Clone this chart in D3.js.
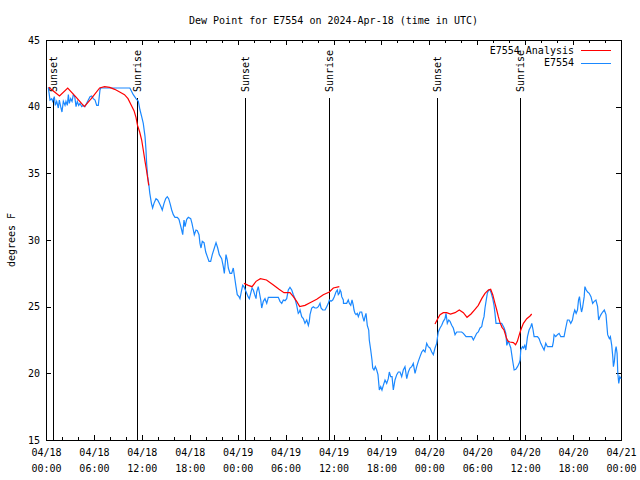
<!DOCTYPE html>
<html><head><meta charset="utf-8">
<script src="https://cdn.jsdelivr.net/npm/d3@7"></script>
<style>
body{margin:0;background:#fff}
svg text{font-family:"DejaVu Sans Mono","Liberation Mono",monospace;font-size:10px;fill:#000}
</style>
</head><body>
<svg id="chart" width="640" height="480"></svg>
<script>
// ---------- data ----------
const title = "Dew Point for E7554 on 2024-Apr-18 (time in UTC)";
const yLabel = "degrees F";
const startUTC = Date.UTC(2024, 3, 18, 0, 0, 0);   // hours below are counted from here
const endUTC = Date.UTC(2024, 3, 21, 0, 0, 0);
const yTicks = [15, 20, 25, 30, 35, 40, 45];
const seriesNames = ["E7554 Analysis", "E7554"];
const seriesColors = ["#ff0000", "#1a88ff"];

// observed E7554 (hours since start, deg F)
const obsHours = [0.29,0.5,0.71,0.83,1.04,1.17,1.34,1.54,1.67,1.84,2.0,2.17,2.38,2.5,2.67,2.8,2.92,3.09,3.26,3.42,3.6,3.76,3.92,4.09,4.26,4.47,4.67,4.88,5.09,5.3,5.51,5.72,5.92,6.14,6.35,6.55,6.76,6.85,10.5,10.93,11.27,11.56,11.77,11.98,12.18,12.4,12.52,12.6,12.73,12.86,13.0,13.2,13.35,13.52,13.77,13.98,14.19,14.4,14.56,14.78,14.99,15.19,15.36,15.53,15.74,15.94,16.15,16.44,16.65,16.78,16.99,17.12,17.28,17.41,17.62,17.82,18.12,18.28,18.45,18.57,18.78,18.95,19.16,19.28,19.41,19.57,19.79,20.0,20.2,20.41,20.62,20.82,21.08,21.29,21.5,21.7,22.0,22.2,22.33,22.54,22.7,22.83,23.04,23.25,23.45,23.67,23.79,23.95,24.17,24.29,24.5,24.63,24.79,24.96,25.13,25.3,25.46,25.63,25.8,25.96,26.13,26.3,26.38,26.58,26.71,26.89,27.01,27.21,27.42,27.64,27.84,29.09,29.3,29.52,29.72,29.93,30.14,30.34,30.55,30.77,30.97,31.18,31.39,31.59,31.72,31.81,32.02,32.22,32.43,32.65,32.85,32.97,33.06,33.27,33.47,33.68,33.9,34.1,34.31,34.44,34.65,34.94,35.15,35.35,35.48,35.69,35.9,36.1,36.31,36.48,36.6,36.73,36.82,36.94,37.03,37.23,37.25,37.65,37.85,37.98,38.16,38.32,38.48,38.57,38.69,38.82,38.98,39.11,39.32,39.53,39.66,39.82,39.95,40.07,40.23,40.41,40.48,40.66,40.82,40.91,41.07,41.24,41.41,41.57,41.74,41.91,42.07,42.24,42.45,42.66,42.86,42.99,43.16,43.33,43.49,43.7,43.92,44.12,44.33,44.54,44.74,44.95,45.17,45.37,45.58,45.79,45.99,46.21,46.42,46.62,46.83,47.05,47.25,47.46,47.67,47.87,48.08,48.3,48.5,48.71,48.92,49.0,49.12,49.34,49.55,49.75,49.96,50.09,50.25,50.43,50.59,50.8,51.0,51.22,51.43,52.05,52.26,52.6,53.31,53.51,53.72,53.93,54.13,54.35,54.56,54.68,54.85,54.97,55.1,55.26,55.44,55.6,55.76,55.94,56.1,56.22,56.35,57.06,57.37,57.58,57.7,57.87,57.99,58.2,58.42,58.62,58.83,59.04,59.25,59.37,59.45,59.66,59.78,59.95,60.08,60.29,60.49,60.7,60.83,60.99,61.12,61.54,61.74,61.95,62.16,62.37,62.58,62.79,63.41,63.54,63.62,63.83,64.04,64.25,64.46,64.87,65.08,65.29,65.5,65.71,65.92,66.04,66.21,66.38,66.55,66.68,66.8,66.97,67.06,67.18,67.39,67.48,67.65,67.82,68.02,68.24,68.45,68.65,68.86,69.07,69.2,69.36,69.49,69.7,69.91,70.12,70.33,70.54,70.67,70.84,70.97,71.05,71.17,71.3,71.39,71.51,71.6,71.72,71.85,72.0];
const obsValues = [41.45,40.5,40.6,40.4,40.75,40.1,40.4,39.9,40.5,40.0,39.6,40.4,40.1,40.4,40.1,40.9,40.25,40.6,40.4,40.9,40.75,40.0,40.4,40.1,40.25,40.0,40.1,40.0,40.25,40.5,40.75,40.8,40.6,40.5,40.1,40.1,41.25,41.4,41.4,40.9,40.6,40.4,39.75,39.25,38.75,37.75,36.75,35.75,34.75,34.25,33.5,32.75,32.4,32.75,33.1,33.0,32.75,32.5,32.25,32.75,33.1,33.25,33.1,32.75,32.25,31.9,31.7,31.7,31.55,31.25,30.75,30.4,31.5,31.0,31.55,31.7,31.6,31.25,30.75,30.4,30.75,30.7,30.4,29.75,29.4,29.9,29.8,29.1,28.75,28.4,28.4,28.9,29.4,29.8,29.4,28.9,28.6,28.0,27.5,28.9,28.5,27.9,27.5,27.5,27.9,27.0,26.5,25.9,25.75,25.6,26.25,26.6,26.5,26.25,26.0,25.75,25.6,26.0,26.4,26.25,25.9,25.6,26.1,26.5,26.1,25.5,24.9,25.4,25.6,25.25,25.7,25.7,25.4,25.25,25.5,25.45,25.6,26.25,26.45,26.25,25.9,25.6,25.1,24.5,24.6,24.75,24.25,24.1,23.75,24.0,23.6,23.9,24.4,24.9,25.0,24.9,24.9,25.0,25.25,24.9,24.75,24.75,25.0,25.25,25.5,25.4,25.5,25.75,26.1,26.25,25.9,26.0,26.25,26.1,25.75,25.5,25.25,25.25,25.5,25.25,25.1,25.5,25.1,24.75,24.5,24.4,24.5,24.25,24.6,24.6,24.25,23.9,24.25,24.5,23.6,23.25,22.5,21.75,21.0,20.4,20.25,20.5,20.25,19.9,18.75,19.0,18.75,19.1,19.5,19.25,19.6,20.1,19.75,19.75,18.75,19.5,19.9,20.1,20.1,19.75,20.25,20.5,19.6,20.1,20.4,20.5,20.75,20.0,20.5,20.9,21.25,21.6,21.75,21.6,22.25,22.0,21.9,21.6,21.4,21.9,22.25,22.6,23.1,23.4,23.6,23.9,24.1,24.5,23.75,24.0,23.9,23.6,23.4,22.9,23.1,23.1,23.0,22.75,22.75,22.5,22.75,23.0,23.1,23.4,23.5,23.9,24.25,24.9,25.4,26.0,26.25,26.25,26.0,25.6,25.1,24.5,23.75,23.75,23.4,23.0,22.1,22.4,22.25,21.9,21.0,20.25,20.3,20.5,20.75,21.0,21.75,22.0,21.9,22.1,21.75,22.75,23.25,23.5,23.75,23.25,22.75,22.75,22.6,22.25,22.0,21.75,22.25,22.0,22.0,22.4,22.9,22.75,22.9,23.0,22.75,22.75,23.4,24.0,24.0,23.75,24.0,24.4,24.75,24.5,24.75,25.5,25.75,24.9,24.6,24.9,25.75,26.5,26.25,26.1,26.0,25.75,25.25,25.4,25.5,25.0,24.0,24.25,24.4,24.6,24.75,24.4,22.9,22.6,22.75,22.1,21.25,20.5,20.9,21.75,22.0,21.5,20.0,19.25,19.75,19.6];

// analysis E7554 (null = gap between analysis runs)
const anaHours = [0.34,0.88,1.69,2.72,3.79,4.8,5.67,6.72,7.33,7.98,8.6,9.23,9.83,10.27,10.68,11.02,11.27,11.46,11.73,11.98,12.18,12.4,12.58,12.77,12.86,18.0,24.79,25.33,25.8,26.3,26.84,27.61,28.43,29.18,29.8,30.55,30.97,31.39,31.77,32.43,33.06,33.9,34.72,35.48,35.98,36.73,42.0,48.71,49.05,49.34,49.75,50.17,50.65,51.22,51.75,52.26,52.72,53.22,53.72,54.13,54.56,54.97,55.39,55.68,55.94,56.22,56.44,56.64,56.85,57.1,57.35,57.66,57.85,58.1,58.52,58.8,59.02,59.27,59.45,59.78,60.2,60.61,60.82];
const anaValues = [41.45,41.2,40.8,41.4,40.7,40.0,40.6,41.4,41.5,41.45,41.3,41.1,40.9,40.6,40.1,39.7,39.2,38.6,38.1,37.5,36.75,35.9,35.25,34.5,34.1,null,26.75,26.6,26.5,26.9,27.1,27.0,26.65,26.3,26.05,26.05,25.75,25.4,25.0,25.1,25.3,25.55,25.9,26.1,26.4,26.5,null,23.7,24.1,24.4,24.55,24.55,24.45,24.55,24.75,24.55,24.2,24.45,24.8,25.1,25.6,26.0,26.25,26.3,25.9,25.25,24.75,24.25,23.8,23.45,23.25,22.65,22.4,22.35,22.3,22.15,22.4,22.9,23.25,23.75,24.1,24.3,24.45];

// sunrise / sunset markers
const eventHours = [0.92, 11.4, 24.97, 35.45, 48.98, 59.4];
const eventLabels = ["Sunset", "Sunrise", "Sunset", "Sunrise", "Sunset", "Sunrise"];

// ---------- chart ----------
const W = 640, H = 480;
const m = {left: 46, right: 19, top: 40, bottom: 40};
const svg = d3.select("#chart");
const toDate = h => new Date(startUTC + h * 3600e3);

const x = d3.scaleUtc().domain([new Date(startUTC), new Date(endUTC)]).range([m.left, W - m.right]);
const y = d3.scaleLinear().domain([15, 45]).range([H - m.bottom, m.top]);

const obs = obsHours.map((h, i) => ({t: toDate(h), v: obsValues[i]}));
const ana = anaHours.map((h, i) => ({t: toDate(h), v: anaValues[i]}));

// minor ticks (every 2 h) top and bottom
const minor = d3.utcHour.every(2);
const major = d3.utcHour.every(6);
function clean(g){ g.select(".domain").remove(); g.selectAll("line").attr("stroke","#000").attr("shape-rendering","crispEdges"); }

svg.append("g").attr("transform", `translate(0,${H - m.bottom})`)
  .call(d3.axisBottom(x).ticks(minor).tickSizeInner(-3).tickSizeOuter(0).tickFormat(""))
  .call(clean);
svg.append("g").attr("transform", `translate(0,${m.top})`)
  .call(d3.axisTop(x).ticks(minor).tickSizeInner(-3).tickSizeOuter(0).tickFormat(""))
  .call(clean);
svg.append("g").attr("transform", `translate(0,${m.top})`)
  .call(d3.axisTop(x).ticks(major).tickSizeInner(-5).tickSizeOuter(0).tickFormat(""))
  .call(clean);

const fmtDay = d3.utcFormat("%m/%d"), fmtTime = d3.utcFormat("%H:%M");
const xb = svg.append("g").attr("transform", `translate(0,${H - m.bottom})`)
  .call(d3.axisBottom(x).ticks(major).tickSizeInner(-5).tickSizeOuter(0).tickPadding(0).tickFormat(""))
  .call(clean);
xb.selectAll(".tick text").remove();
xb.selectAll(".tick").each(function(d){
  const t = d3.select(this).append("text").attr("text-anchor","middle").attr("fill","#000")
    .attr("font-family",'"DejaVu Sans Mono",monospace').attr("font-size",10);
  t.append("tspan").attr("x",0).attr("y",16).text(fmtDay(d));
  t.append("tspan").attr("x",0).attr("y",32).text(fmtTime(d));
});

const yl = svg.append("g").attr("transform", `translate(${m.left},0)`)
  .call(d3.axisLeft(y).tickValues(yTicks).tickSizeInner(-5).tickSizeOuter(0).tickPadding(6).tickFormat(d3.format("d")))
  .call(clean);
yl.selectAll("text").attr("fill","#000").attr("font-family",'"DejaVu Sans Mono",monospace').attr("font-size",10);
svg.append("g").attr("transform", `translate(${W - m.right},0)`)
  .call(d3.axisRight(y).tickValues(yTicks).tickSizeInner(-5).tickSizeOuter(0).tickFormat(""))
  .call(clean);

// border
svg.append("rect").attr("x", m.left + 0.5).attr("y", m.top + 0.5)
  .attr("width", W - m.left - m.right).attr("height", H - m.top - m.bottom)
  .attr("fill","none").attr("stroke","#000").attr("shape-rendering","crispEdges");

// event markers
const ev = svg.append("g");
eventHours.forEach((h, i) => {
  const px = Math.round(x(toDate(h))) + 0.5;
  ev.append("line").attr("x1", px).attr("x2", px).attr("y1", 98).attr("y2", H - m.bottom)
    .attr("stroke","#000").attr("shape-rendering","crispEdges");
  ev.append("text").attr("transform", `translate(${px},92) rotate(-90)`)
    .attr("dy","0.35em").attr("text-anchor","start").text(eventLabels[i]);
});

// series
const line = d3.line().defined(d => d.v != null).x(d => x(d.t)).y(d => y(d.v));
svg.append("path").datum(obs).attr("d", line).attr("fill","none")
  .attr("stroke", seriesColors[1]).attr("stroke-width", 1.2);
svg.append("path").datum(ana).attr("d", line).attr("fill","none")
  .attr("stroke", seriesColors[0]).attr("stroke-width", 1.2);

// title and axis label
svg.append("text").attr("x", (m.left + W - m.right) / 2).attr("y", 23.5)
  .attr("text-anchor","middle").text(title);
svg.append("text").attr("transform", `translate(11,${(m.top + H - m.bottom) / 2}) rotate(-90)`)
  .attr("text-anchor","middle").attr("dy","0.35em").text(yLabel);

// legend
const lg = svg.append("g");
seriesNames.forEach((n, i) => {
  const ly = 50 + i * 12.5;
  lg.append("text").attr("x", 574).attr("y", ly).attr("dy","0.35em").attr("text-anchor","end").text(n);
  lg.append("line").attr("x1", 581).attr("x2", 611).attr("y1", Math.round(ly) + 0.5).attr("y2", Math.round(ly) + 0.5)
    .attr("stroke", seriesColors[i]).attr("shape-rendering","crispEdges");
});
</script>
</body></html>
